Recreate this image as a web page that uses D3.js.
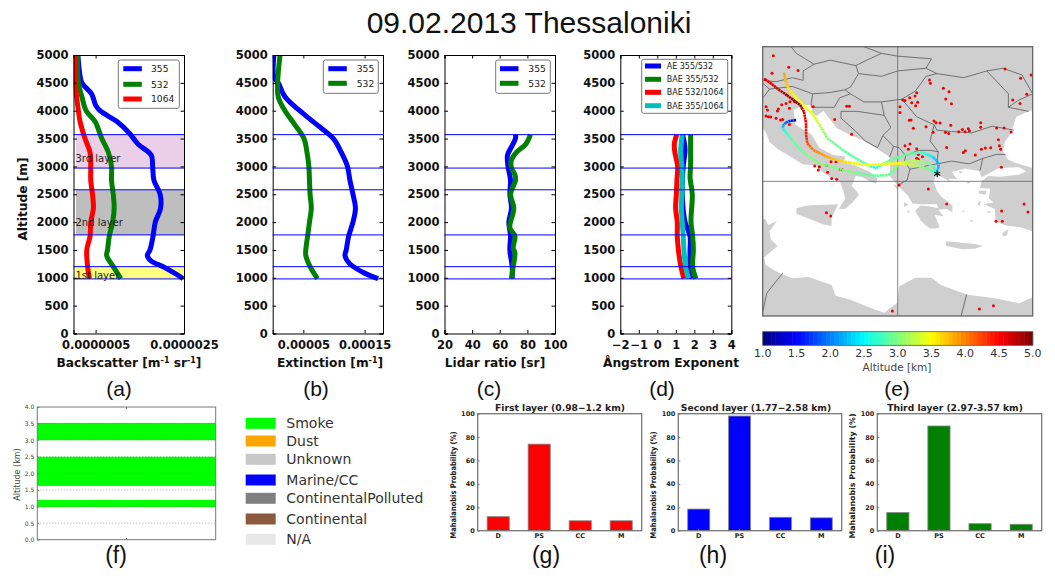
<!DOCTYPE html>
<html>
<head>
<meta charset="utf-8">
<script src="https://cdn.jsdelivr.net/npm/d3@7"></script>
<style>
body { margin: 0; background: #fff; }
svg { display: block; }
text { font-family: "DejaVu Sans", sans-serif; }
</style>
</head>
<body>
<script>
// layer limits in m
var layerAlts = [980, 1200, 1770, 2580, 2970, 3570];
var altTicks = [0, 500, 1000, 1500, 2000, 2500, 3000, 3500, 4000, 4500, 5000];

// backscatter [m-1 sr-1], each series with its own altitudes
var bscAlt355 = [985, 1100, 1200, 1300, 1400, 1500, 1750, 2000, 2250, 2500, 2750, 3000, 3200, 3400, 3600, 3800, 4000, 4100, 4300, 4500, 4700, 5000];
var bsc355 = [2.48e-6, 2.25e-6, 2.03e-6, 1.76e-6, 1.67e-6, 1.73e-6, 1.80e-6, 1.85e-6, 1.97e-6, 1.96e-6, 1.82e-6, 1.79e-6, 1.76e-6, 1.46e-6, 1.26e-6, 0.99e-6, 0.60e-6, 0.50e-6, 0.41e-6, 0.19e-6, 0.135e-6, 0.10e-6];
var bscAlt = [985, 1200, 1400, 1500, 1750, 2000, 2250, 2500, 2750, 3000, 3250, 3500, 3800, 4000, 4250, 4500, 5000];
var bsc532 = [1.07e-6, 0.90e-6, 0.75e-6, 0.77e-6, 0.81e-6, 0.886e-6, 0.92e-6, 0.90e-6, 0.86e-6, 0.86e-6, 0.79e-6, 0.64e-6, 0.49e-6, 0.285e-6, 0.19e-6, 0.11e-6, 0.09e-6];
var bscAlt1064 = [985, 1200, 1500, 1750, 2000, 2250, 2500, 2750, 3000, 3250, 3500, 3800, 4000, 4500, 5000];
var bsc1064 = [0.36e-6, 0.32e-6, 0.30e-6, 0.375e-6, 0.39e-6, 0.45e-6, 0.43e-6, 0.39e-6, 0.39e-6, 0.375e-6, 0.26e-6, 0.15e-6, 0.11e-6, 0.04e-6, 0.03e-6];

// extinction [m-1]
var extAlt355 = [985, 1100, 1250, 1400, 1500, 1750, 2000, 2250, 2500, 2750, 3000, 3250, 3500, 3750, 4000, 4250, 4500, 4600, 5000];
var ext355 = [1.72e-4, 1.47e-4, 1.26e-4, 1.18e-4, 1.20e-4, 1.24e-4, 1.31e-4, 1.35e-4, 1.31e-4, 1.26e-4, 1.22e-4, 1.12e-4, 0.99e-4, 0.72e-4, 0.44e-4, 0.20e-4, 0.09e-4, 0.02e-4, 0.02e-4];
var extAlt532 = [985, 1200, 1400, 1500, 1750, 2000, 2250, 2500, 2750, 3000, 3250, 3500, 3750, 4000, 4250, 4500, 5000];
var ext532 = [0.73e-4, 0.61e-4, 0.54e-4, 0.54e-4, 0.57e-4, 0.60e-4, 0.63e-4, 0.61e-4, 0.60e-4, 0.59e-4, 0.56e-4, 0.51e-4, 0.36e-4, 0.20e-4, 0.09e-4, 0.08e-4, 0.12e-4];

// lidar ratio [sr]
var lrAlt355 = [985, 1200, 1500, 1750, 2000, 2250, 2500, 2750, 3000, 3200, 3350, 3500, 3570];
var lr355 = [69, 69, 67.3, 67.8, 66.6, 68.5, 67.3, 67.8, 66, 65.6, 68.5, 71.4, 71.4];
var lrAlt532 = [985, 1200, 1450, 1530, 1750, 1900, 2250, 2500, 2750, 2850, 2970, 3100, 3250, 3400, 3570];
var lr532 = [68.5, 69.7, 71, 69.7, 71, 67.3, 70.2, 67.8, 71.4, 71, 68.5, 68.3, 72, 78.9, 82.2];

// angstrom exponents
var aeAlt = [985, 1200, 1500, 1750, 2000, 2500, 3000, 3300, 3570];
var ae355532 = [1.86, 1.77, 1.77, 1.77, 1.5, 1.35, 1.4, 1.5, 1.37];
var baeAlt = [985, 1200, 1500, 1750, 2000, 2500, 2800, 3000, 3250, 3570];
var bae355532 = [2.09, 1.91, 1.95, 1.91, 1.82, 1.89, 1.77, 1.8, 1.8, 1.8];
var baeAlt2 = [985, 1200, 1500, 1750, 2000, 2250, 2500, 2750, 3000, 3250, 3400, 3570];
var bae5321064 = [1.44, 1.28, 1.14, 1.08, 1.08, 0.99, 1.03, 1.06, 1.1, 0.95, 0.92, 1.05];
var baeAlt3 = [985, 1200, 1500, 1750, 2000, 2250, 2500, 2750, 3000, 3250, 3570];
var bae3551064 = [1.68, 1.53, 1.44, 1.4, 1.35, 1.3, 1.33, 1.35, 1.33, 1.26, 1.35];

// map, lon/lat
var seaCoast = [[10,44],[10.3,43.5],[10.5,42.95],[11.1,42.4],[12.2,41.75],[13,41.25],[13.9,41.2],[14.3,40.8],[15,40.3],[15.7,40],[16,39.2],[16.1,38.7],[15.8,38.2],[15.65,37.95],[16.1,37.95],[16.6,38.4],[17.15,39],[16.6,39.7],[16.9,40.4],[17.4,40.3],[18,39.95],[18.4,39.85],[18.5,40.2],[18,40.65],[16.9,41.15],[16,41.45],[16.15,41.85],[15.2,41.95],[14.2,42.5],[13.6,43.5],[12.4,44.2],[12.3,45.3],[13.1,45.7],[13.7,45.6],[13.6,45.1],[14,44.85],[14.5,45.25],[14.9,44.7],[15.5,43.95],[16.4,43.5],[17.5,43],[18.5,42.4],[19.4,41.8],[19.45,41],[19.4,40.4],[20,39.7],[20.75,38.95],[21.1,38.35],[21.7,38.3],[22.9,38.3],[23,38],[22.3,38.15],[21.7,38.2],[21.3,37.8],[21.7,37.1],[22,36.8],[22.4,36.5],[22.8,36.5],[23.1,36.6],[22.75,37.5],[23.4,37.4],[23,37.9],[23.6,37.95],[24.05,37.7],[24.05,38.2],[23.2,38.9],[22.9,39.3],[22.65,40],[22.9,40.5],[23.4,40.25],[23.9,39.95],[23.8,40.2],[24.4,40.15],[24,40.7],[25,40.95],[26.05,40.75],[26.2,40.3],[26.8,40.6],[27.5,41],[29,41.05],[29.5,40.75],[29,40.5],[27.6,40.35],[26.7,40.4],[26.2,40],[26.1,39.5],[26.85,39.45],[26.75,38.7],[27.1,38.45],[26.35,38.3],[27.2,37.95],[27.25,37],[28.1,36.7],[29.1,36.6],[30,36.3],[30,31.4],[29,30.95],[27.3,31.3],[25.1,31.6],[23.2,32.3],[22.5,32.85],[21.3,32.85],[20.1,32.2],[20,31],[19,30.25],[18,30.6],[16.5,31.2],[15.4,31.5],[15.1,32.3],[13.4,32.9],[12.2,32.8],[11.2,33.2],[10.2,33.8],[10.1,34.35],[11.1,35.2],[10.6,35.7],[10.5,36.3],[11.05,37.05],[10.4,36.75],[10.2,37.2],[10,37.25]];
var blackSea = [[30,45.3],[29.7,45.2],[28.8,44.8],[28.7,44.55],[28.4,43.6],[27.95,42.95],[27.8,42.2],[28.2,41.6],[28.8,41.35],[30,41]];
var islands = [
  [[12.5,38],[13.3,38.2],[15.6,38.3],[15.1,37.3],[15.1,36.7],[14.5,36.8],[12.5,37.6]],
  [[23.55,35.55],[24.2,35.5],[25.7,35.35],[26.3,35.2],[25.7,35],[24.8,34.95],[23.6,35.2]],
  [[27.75,36.15],[28.2,36.45],[28.1,36],[27.8,35.9]],
  [[26.0,39.3],[26.6,39.3],[26.5,39],[26,39.1]],
  [[26,38.5],[26.15,38.55],[26.1,38.2],[25.9,38.25]],
  [[26.6,37.8],[27,37.75],[26.7,37.65]],
  [[20.45,38.45],[20.8,38.3],[20.5,38.1]],
  [[20.65,37.85],[20.95,37.75],[20.8,37.65]],
  [[19.65,39.8],[20.1,39.6],[19.9,39.45]],
  [[24.55,40.8],[24.8,40.7],[24.6,40.55]],
  [[25.1,40],[25.4,39.95],[25.2,39.8]],
  [[25.4,37.15],[25.6,37.1],[25.45,36.95]],
  [[24.85,37.85],[25,37.7],[24.8,37.75]]
];
var borders = [
  [[10,47.5],[11,47.4],[12.2,47.7],[13,47.5],[13,48.2],[13.8,48.7],[12.5,49.5],[12.1,50]],
  [[10,47.3],[10.5,46.85],[12.2,47.05],[13.7,46.5],[13.6,45.8],[13.6,45.5]],
  [[10.5,46.85],[10.1,46.3],[10,46.2]],
  [[13.8,48.7],[15,49],[16.9,48.6],[17.7,49],[18.8,49.5],[17.5,50]],
  [[18.8,49.5],[20,49.3],[22.5,49.1],[22.1,48.4]],
  [[16.9,48.6],[17.1,48],[18.8,47.8],[20,48.2],[22.1,48.4],[22.9,48]],
  [[17.1,48],[16.5,47],[16.1,46.8],[15,46.6],[13.7,46.5]],
  [[16.1,46.8],[16.5,46.5],[15.7,46.2],[15.3,45.5],[14.5,45.5],[13.6,45.5]],
  [[16.5,46.5],[17.5,45.9],[18.8,45.9],[20.3,46.1],[21.3,46.7],[22.1,47.8],[22.9,48],[24.9,47.7],[26.6,48.2],[28.2,46.5],[28.2,45.5],[29.7,45.2]],
  [[26.6,48.2],[27.8,48.4],[29.2,47.9],[30,46.5],[28.9,46],[28.2,45.5]],
  [[20.3,46.1],[21.4,44.8],[22.7,44.2],[22.9,43.8],[24,43.7],[25.5,43.6],[27,44.1],[28.6,43.8]],
  [[22.7,44.2],[22.4,43],[23,42.2],[22.9,41.3],[24,41.5],[25.3,41.3],[26.3,41.7],[27.3,42],[28,42]],
  [[26.3,41.7],[26.1,40.8]],
  [[23,42.2],[22.4,42.3],[21.5,42.3],[20.6,41.9],[20.5,41.5],[20.9,40.9],[21.9,41.1],[22.9,41.3]],
  [[20.9,40.9],[20.7,40.1],[20,39.7]],
  [[19.4,41.8],[19.7,42.6],[20.1,42.5],[20.6,41.9]],
  [[18.8,45.9],[19,44.9],[19.5,44],[18.9,43.4],[18.5,42.5]],
  [[18.9,43.4],[19.7,42.6]],
  [[19,44.9],[17,45.2],[15.8,45.2],[15.8,44.7],[16.9,43.7],[17.6,43],[18.5,42.5]],
  [[11.5,33.2],[10.3,31.7],[10,30.3]],
  [[25.1,31.6],[24.7,30]]
];
var sites = [[10.79,49.33],[11.93,48.47],[12.62,48.24],[10.69,48.02],[10.17,47.57],[10.25,45.54],[10.35,45.30],[10.25,44.85],[10.42,44.80],[10.59,44.78],[10.99,44.68],[11.41,45.69],[11.16,45.37],[11.09,45.22],[11.98,45.42],[12.02,45.92],[11.73,45.79],[11.98,44.23],[11.33,44.55],[11.48,44.60],[12.37,45.92],[16.22,45.57],[16.42,45.57],[13.75,45.54],[15.33,44.60],[16.59,43.49],[22.35,47.52],[22.42,47.28],[23.38,46.91],[23.80,46.66],[23.56,46.11],[23.98,45.77],[21.41,46.58],[21.28,46.34],[20.37,46.04],[20.54,46.01],[21.04,45.84],[20.89,46.21],[21.48,45.87],[21.33,45.62],[20.17,45.54],[20.17,45.12],[20.86,44.53],[20.99,44.55],[21.16,43.94],[22.10,44.06],[22.69,44.48],[22.84,44.36],[23.14,44.33],[23.93,44.16],[22.62,43.64],[23.53,43.64],[23.78,43.56],[24.52,43.69],[24.79,43.86],[24.99,43.69],[25.23,43.91],[25.31,43.76],[26.15,44.36],[26.15,44.01],[27.33,43.96],[27.88,43.96],[28.40,43.66],[27.46,43.09],[27.53,42.65],[27.63,42.38],[26.89,42.50],[26.49,42.48],[26.20,42.38],[25.75,41.96],[25.01,42.28],[24.86,42.15],[23.63,42.52],[20.54,42.65],[20.91,42.77],[21.41,42.43],[20.79,42.38],[21.53,42.00],[21.83,41.83],[21.41,41.71],[21.53,41.63],[27.68,41.04],[27.95,48.34],[29.11,47.65],[29.88,47.90],[29.56,46.46],[28.52,46.04],[29.06,45.79],[13.85,41.14],[14.20,41.09],[14.12,40.84],[14.81,40.67],[14.74,41.19],[15.06,41.46],[15.43,41.46],[15.73,40.89],[15.90,40.87],[15.11,40.22],[15.48,40.15],[20.10,39.73],[22.27,39.43],[23.63,38.32],[14.72,37.67],[15.04,37.43],[29.36,38.32],[29.65,37.72],[27.70,37.80],[27.28,37.03],[27.75,37.03],[19.60,30.37],[26.05,30.52],[27.09,30.77]];
var station = [22.93, 40.56];

// back trajectories: lon, lat, altitude km
var trajA = [[12.47,44.55,1.3],[12.07,44.50,1.6],[11.73,44.38,1.9],[11.48,44.11,2.2],[11.53,43.86,2.5],[11.90,43.44,2.8],[12.27,42.95,2.9],[12.64,42.52,2.9],[13.26,41.96,3.0],[14.25,41.34,3.0],[15.48,40.97,3.0],[16.47,40.72,3.0],[17.46,40.52,2.9],[18.44,40.42,2.9],[19.31,40.47,2.9],[19.80,40.84,2.95],[19.98,41.29,3.1],[20.54,41.44,3.2],[21.41,41.53,3.2],[22.15,41.39,3.0],[22.69,41.04,2.8],[22.91,40.54,2.6]];
var trajB = [[11.58,48.07,3.9],[11.68,47.52,3.8],[11.90,46.91,3.6],[12.40,46.29,3.5],[13.01,45.67,3.5],[13.75,44.93,3.4],[14.37,43.94,3.2],[14.79,43.19,3.0],[15.36,42.77,2.9],[16.10,42.20,2.85],[17.21,41.53,2.85],[17.95,41.14,2.7],[18.40,40.99,2.6],[18.94,41.29,2.9],[19.56,41.63,2.9],[20.17,41.83,2.9],[20.79,42.03,2.9],[21.65,42.15,2.8],[22.15,42.03,2.6],[22.64,41.78,2.35],[22.96,41.46,2.2],[23.04,41.09,2.2],[22.89,40.72,2.4],[22.91,40.54,2.5]];
var trajC = [[10.17,47.57,4.6],[10.67,47.23,4.6],[11.16,46.83,4.7],[11.78,46.41,4.8],[12.27,46.04,4.9],[12.77,45.67,4.9],[13.06,45.17,4.7],[13.21,44.31,4.5],[13.21,43.44,4.4],[13.31,42.82,4.2],[13.75,42.33,4.0],[14.74,41.83,3.85],[15.48,41.58,3.7],[16.47,41.39,3.55],[17.70,41.21,3.5],[18.94,41.29,3.5],[20.17,41.34,3.5],[21.16,41.21,3.25],[22.15,40.97,3.0],[22.91,40.54,2.7]];
var cbarTicks = [1, 1.5, 2, 2.5, 3, 3.5, 4, 4.5, 5];

// aerosol type column
var typeTicks = [0, 0.5, 1, 1.5, 2, 2.5, 3, 3.5, 4];
var smokeBottoms = [0.98, 1.62, 3.0];
var smokeTops = [1.2, 2.5, 3.52];
var typeNames = ["Smoke", "Dust", "Unknown", "Marine/CC", "ContinentalPolluted", "Continental", "N/A"];
var typeColors = ["#00ff00", "#ffa500", "#c8c8c8", "#0000ff", "#808080", "#8b5a3c", "#e8e8e8"];

// mahalanobis bars
var barCats = ["D", "PS", "CC", "M"];
var firstLayer = [12, 74, 8.5, 8.5];
var secondLayer = [18.5, 98, 11.5, 11];
var thirdLayer = [15.5, 89.5, 6, 5.5];

var svg = d3.select("body").append("svg").attr("width", 1055).attr("height", 581);
var defs = svg.append("defs");

var top0 = 55, bot0 = 333.5;
var yAlt = d3.scaleLinear().domain([0, 5000]).range([bot0, top0]);
var profLine = d3.line().curve(d3.curveCatmullRom.alpha(0.5));

function zipSeries(alts, vals) {
    return alts.map(function (a, i) { return [vals[i], a]; });
}

function legend(box, swX, textX, ys, names, colors, size, sw) {
    svg.append("rect").attr("x", box[0]).attr("y", box[1]).attr("width", box[2] - box[0]).attr("height", box[3] - box[1])
        .attr("rx", 2).attr("fill", "#fff").attr("stroke", "#777").attr("stroke-width", 1);
    names.forEach(function (n, i) {
        svg.append("line").attr("x1", swX).attr("x2", swX + sw).attr("y1", ys[i]).attr("y2", ys[i])
            .attr("stroke", colors[i]).attr("stroke-width", 5);
        svg.append("text").attr("x", textX).attr("y", ys[i] + size * 0.37).attr("font-size", size).attr("fill", "#222").text(n);
    });
}

function profilePanel(x0, x1, domain, ticks, fmt, label, series, labelX) {
    var x = d3.scaleLinear().domain(domain).range([x0, x1]);
    var clipId = "clip" + Math.round(x0);
    defs.append("clipPath").attr("id", clipId).append("rect").attr("x", x0).attr("y", top0).attr("width", x1 - x0).attr("height", bot0 - top0);
    var g = svg.append("g");
    if (x0 < 100) {
        // shaded layers, only in the backscatter panel
        var shadeX = x.invert(76);
        [[0, 1, "#ffff7f"], [2, 3, "#bebebe"], [4, 5, "#ebcfe9"]].forEach(function (s) {
            g.append("rect").attr("x", x(shadeX)).attr("width", x1 - x(shadeX))
                .attr("y", yAlt(layerAlts[s[1]])).attr("height", yAlt(layerAlts[s[0]]) - yAlt(layerAlts[s[1]]))
                .attr("fill", s[2]);
        });
    }
    var lines = g.append("g").attr("clip-path", "url(#" + clipId + ")");
    series.forEach(function (s) {
        lines.append("path").attr("d", profLine.x(function (d) { return x(d[0]); }).y(function (d) { return yAlt(d[1]); })(s.data))
            .attr("fill", "none").attr("stroke", s.color).attr("stroke-width", 5).attr("stroke-linejoin", "round");
    });
    layerAlts.forEach(function (a) {
        g.append("line").attr("x1", x0).attr("x2", x1).attr("y1", yAlt(a)).attr("y2", yAlt(a)).attr("stroke", "#0000ff").attr("stroke-width", 1);
    });
    if (x0 < 100) {
        [[1050, "1st layer"], [2000, "2nd layer"], [3140, "3rd layer"]].forEach(function (t) {
            g.append("text").attr("x", x0 + 2).attr("y", yAlt(t[0])).attr("dy", "0.35em").attr("font-size", 10).attr("fill", "#222").text(t[1]);
        });
    }
    var yAxis = d3.axisLeft(yAlt).tickValues(altTicks).tickSize(-3.5).tickPadding(5).tickFormat(d3.format("d"));
    var yAxisR = d3.axisRight(yAlt).tickValues(altTicks).tickSize(-3.5).tickFormat("");
    var xAxis = d3.axisBottom(x).tickValues(ticks).tickSize(-3.5).tickPadding(7).tickFormat(fmt);
    var xAxisT = d3.axisTop(x).tickValues(ticks).tickSize(-3.5).tickFormat("");
    svg.append("g").attr("transform", "translate(" + x0 + ",0)").call(yAxis);
    svg.append("g").attr("transform", "translate(" + x1 + ",0)").call(yAxisR);
    svg.append("g").attr("transform", "translate(0," + bot0 + ")").call(xAxis);
    svg.append("g").attr("transform", "translate(0," + top0 + ")").call(xAxisT);
    svg.selectAll("g.tick text").attr("font-size", 11.5).attr("font-weight", "bold").attr("fill", "#111");
    svg.selectAll(".domain").attr("stroke-width", 1);
    svg.append("text").attr("x", labelX).attr("y", 366.5).attr("text-anchor", "middle").attr("font-size", 12.2).attr("font-weight", "bold").attr("fill", "#111").html(label);
}

var fmtFixed7 = function (d) { return d3.format(".7f")(d); };
var fmtFixed5 = function (d) { return d3.format(".5f")(d); };

profilePanel(73.5, 184, [0, 2.5e-6], [5e-7, 2.5e-6], fmtFixed7,
    'Backscatter [m<tspan dy="-4" font-size="8">-1</tspan><tspan dy="4"> sr</tspan><tspan dy="-4" font-size="8">-1</tspan><tspan dy="4">]</tspan>',
    [{ data: zipSeries(bscAlt355, bsc355), color: "#0000ff" }, { data: zipSeries(bscAlt, bsc532), color: "#008000" }, { data: zipSeries(bscAlt1064, bsc1064), color: "#ff0000" }], 129);
profilePanel(272.7, 383, [0, 1.8e-4], [5e-5, 1.5e-4], fmtFixed5,
    'Extinction [m<tspan dy="-4" font-size="8">-1</tspan><tspan dy="4">]</tspan>',
    [{ data: zipSeries(extAlt355, ext355), color: "#0000ff" }, { data: zipSeries(extAlt532, ext532), color: "#008000" }], 330);
profilePanel(444.5, 555, [20, 100], [20, 40, 60, 80, 100], d3.format("d"), "Lidar ratio [sr]",
    [{ data: zipSeries(lrAlt355, lr355), color: "#0000ff" }, { data: zipSeries(lrAlt532, lr532), color: "#008000" }], 495);
profilePanel(620.3, 731.3, [-2, 4], [-2, -1, 0, 1, 2, 3, 4], function (d) { return d < 0 ? "\u2212" + (-d) : d; }, "\u00c5ngstrom Exponent",
    [{ data: zipSeries(aeAlt, ae355532), color: "#0000ff" }, { data: zipSeries(baeAlt, bae355532), color: "#008000" }, { data: zipSeries(baeAlt2, bae5321064), color: "#ff0000" }, { data: zipSeries(baeAlt3, bae3551064), color: "#00bfbf" }], 671);

svg.append("text").attr("transform", "translate(27,199) rotate(-90)").attr("text-anchor", "middle").attr("font-size", 12.2).attr("font-weight", "bold").attr("fill", "#111").text("Altitude [m]");

legend([118.3, 60, 179.3, 108.3], 123.3, 151, [68.7, 84.3, 99], ["355", "532", "1064"], ["#0000ff", "#008000", "#ff0000"], 9.2, 18.5);
legend([323.3, 60, 378.3, 93.3], 328.3, 356.7, [68.7, 83.3], ["355", "532"], ["#0000ff", "#008000"], 9.2, 18.5);
legend([495.7, 60, 550.3, 93.3], 500, 528.3, [68.7, 83.3], ["355", "532"], ["#0000ff", "#008000"], 9.2, 18.5);
legend([641.7, 59.3, 727.7, 113.3], 645, 666.7, [66, 79.3, 92.3, 105.7], ["AE 355/532", "BAE 355/532", "BAE 532/1064", "BAE 355/1064"], ["#0000ff", "#008000", "#ff0000", "#00bfbf"], 8, 16);

// map
var mx = d3.scaleLinear().domain([10, 30]).range([762.7, 1032.7]);
var my = d3.scaleLinear().domain([50, 30]).range([46.7, 316]);
var mapLine = d3.line().x(function (d) { return mx(d[0]); }).y(function (d) { return my(d[1]); });
var jet = d3.scaleLinear().domain([1, 1.5, 2.5, 3.5, 4.5, 5])
    .range(["#00007f", "#0000ff", "#00ffff", "#ffff00", "#ff0000", "#7f0000"]);

defs.append("clipPath").attr("id", "mapclip").append("rect").attr("x", mx(10)).attr("y", my(50)).attr("width", mx(30) - mx(10)).attr("height", my(30) - my(50));
var map = svg.append("g").attr("clip-path", "url(#mapclip)");
map.append("rect").attr("x", mx(10)).attr("y", my(50)).attr("width", mx(30) - mx(10)).attr("height", my(30) - my(50)).attr("fill", "#cfcfcf");
map.append("path").attr("d", mapLine(seaCoast) + "Z").attr("fill", "#fff");
map.append("path").attr("d", mapLine(blackSea) + "Z").attr("fill", "#fff");
islands.forEach(function (p) {
    map.append("path").attr("d", mapLine(p) + "Z").attr("fill", "#cfcfcf");
});
borders.forEach(function (b) {
    map.append("path").attr("d", mapLine(b)).attr("fill", "none").attr("stroke", "#666").attr("stroke-width", 0.9);
});
map.append("line").attr("x1", mx(20)).attr("x2", mx(20)).attr("y1", my(50)).attr("y2", my(30)).attr("stroke", "#666").attr("stroke-width", 0.8);
map.append("line").attr("x1", mx(10)).attr("x2", mx(30)).attr("y1", my(40)).attr("y2", my(40)).attr("stroke", "#666").attr("stroke-width", 0.8);
map.selectAll("circle.site").data(sites).enter().append("circle").attr("class", "site")
    .attr("cx", function (d) { return mx(d[0]); }).attr("cy", function (d) { return my(d[1]); }).attr("r", 1.5).attr("fill", "#f00000");

var gradId = 0;
[trajA, trajB, trajC].forEach(function (t) {
    d3.pairs(t).forEach(function (p) {
        var id = "seg" + (gradId++);
        var grad = defs.append("linearGradient").attr("id", id).attr("gradientUnits", "userSpaceOnUse")
            .attr("x1", mx(p[0][0])).attr("y1", my(p[0][1])).attr("x2", mx(p[1][0])).attr("y2", my(p[1][1]));
        grad.append("stop").attr("offset", 0).attr("stop-color", jet(p[0][2]));
        grad.append("stop").attr("offset", 1).attr("stop-color", jet(p[1][2]));
        map.append("line").attr("x1", mx(p[0][0])).attr("y1", my(p[0][1])).attr("x2", mx(p[1][0]) + 0.01).attr("y2", my(p[1][1]) + 0.01)
            .attr("stroke", "url(#" + id + ")").attr("stroke-width", 2.6).attr("stroke-dasharray", "2.4,0.4");
    });
});
map.append("path").attr("d", d3.symbol().type(d3.symbolAsterisk).size(32)())
    .attr("transform", "translate(" + mx(station[0]) + "," + my(station[1]) + ")").attr("stroke", "#000").attr("stroke-width", 1.1).attr("fill", "none");
svg.append("rect").attr("x", mx(10)).attr("y", my(50)).attr("width", mx(30) - mx(10)).attr("height", my(30) - my(50)).attr("fill", "none").attr("stroke", "#666").attr("stroke-width", 1.3);

// colour bar
var cx = d3.scaleLinear().domain([1, 5]).range([762.7, 1032.7]);
var cbarStops = d3.range(0, 64).map(function (i) { return 1 + i * 4 / 64; });
svg.append("g").selectAll("rect").data(cbarStops).enter().append("rect")
    .attr("x", function (d) { return cx(d); }).attr("y", 331.7).attr("width", 270 / 64 + 0.5).attr("height", 13.6)
    .attr("fill", function (d) { return jet(d + 2 / 64); });
svg.append("rect").attr("x", 762.7).attr("y", 331.7).attr("width", 270).attr("height", 13.6).attr("fill", "none").attr("stroke", "#555").attr("stroke-width", 0.8);
cbarTicks.forEach(function (t) {
    svg.append("text").attr("x", cx(t)).attr("y", 357).attr("text-anchor", "middle").attr("font-size", 11).attr("fill", "#333").text(d3.format(".1f")(t));
});
svg.append("text").attr("x", 897).attr("y", 367).attr("dy", "0.35em").attr("text-anchor", "middle").attr("font-size", 10.5).attr("fill", "#444").text("Altitude [km]");

// aerosol type column
var fx0 = 37.3, fx1 = 215.7;
var fy = d3.scaleLinear().domain([0, 4]).range([539.7, 407]);
svg.append("g").selectAll("rect").data(smokeBottoms).enter().append("rect")
    .attr("x", fx0).attr("width", fx1 - fx0)
    .attr("y", function (d, i) { return fy(smokeTops[i]); })
    .attr("height", function (d, i) { return fy(d) - fy(smokeTops[i]); })
    .attr("fill", "#00ff00");
typeTicks.slice(1, -1).forEach(function (t) {
    svg.append("line").attr("x1", fx0).attr("x2", fx1).attr("y1", fy(t)).attr("y2", fy(t)).attr("stroke", "#777").attr("stroke-width", 0.6).attr("stroke-dasharray", "1,2");
});
svg.append("rect").attr("x", fx0).attr("y", 407).attr("width", fx1 - fx0).attr("height", 132.7).attr("fill", "none").attr("stroke", "#777").attr("stroke-width", 1);
var fAxis = d3.axisLeft(fy).tickValues(typeTicks).tickSize(-2).tickPadding(3).tickFormat(d3.format(".1f"));
var fg = svg.append("g").attr("transform", "translate(" + fx0 + ",0)").call(fAxis);
fg.selectAll("text").attr("font-size", 6).attr("fill", "#444");
fg.select(".domain").remove();
fg.selectAll("line").attr("stroke", "#777");
svg.append("text").attr("transform", "translate(20,474.5) rotate(-90)").attr("text-anchor", "middle").attr("font-size", 8).attr("fill", "#444").text("Altitude (km)");
svg.append("line").attr("x1", (fx0 + fx1) / 2).attr("x2", (fx0 + fx1) / 2).attr("y1", 407).attr("y2", 409).attr("stroke", "#777");
svg.append("line").attr("x1", (fx0 + fx1) / 2).attr("x2", (fx0 + fx1) / 2).attr("y1", 538).attr("y2", 540).attr("stroke", "#777");

var typeYs = [423.3, 441, 459.3, 480, 498.3, 519, 539.3];
typeNames.forEach(function (n, i) {
    svg.append("rect").attr("x", 245.7).attr("y", typeYs[i] - 5.5).attr("width", 30).attr("height", 11).attr("fill", typeColors[i]);
    svg.append("text").attr("x", 286.3).attr("y", typeYs[i] + 5).attr("font-size", 14).attr("fill", "#333").text(n);
});

// mahalanobis panels
function barPanel(x0, x1, values, color, title, titleX, labelMid, labelLen) {
    var x = d3.scaleBand().domain(barCats).range([x0, x1]).paddingInner(0.46).paddingOuter(0.23);
    var y = d3.scaleLinear().domain([0, 100]).range([530.7, 413.7]);
    svg.append("g").selectAll("rect").data(values).enter().append("rect")
        .attr("x", function (d, i) { return x(barCats[i]); }).attr("width", x.bandwidth())
        .attr("y", function (d) { return y(d); }).attr("height", function (d) { return y(0) - y(d); })
        .attr("fill", color).attr("stroke", "#888").attr("stroke-width", 0.8);
    svg.append("rect").attr("x", x0).attr("y", 413.7).attr("width", x1 - x0).attr("height", 117).attr("fill", "none").attr("stroke", "#777").attr("stroke-width", 1.3);
    var ya = svg.append("g").attr("transform", "translate(" + x0 + ",0)")
        .call(d3.axisLeft(y).tickValues([0, 20, 40, 60, 80, 100]).tickSize(-2).tickPadding(3));
    var xa = svg.append("g").attr("transform", "translate(0,530.7)")
        .call(d3.axisBottom(x).tickSize(-2).tickPadding(3));
    [ya, xa].forEach(function (a) {
        a.select(".domain").remove();
        a.selectAll("line").attr("stroke", "#777");
        a.selectAll("text").attr("font-size", 6.5).attr("font-weight", "bold").attr("fill", "#222");
    });
    svg.append("text").attr("transform", "translate(" + (x0 - 22) + "," + labelMid + ") rotate(-90)").attr("text-anchor", "middle")
        .attr("font-size", 7.8).attr("font-weight", "bold").attr("fill", "#222")
        .attr("textLength", labelLen).attr("lengthAdjust", "spacingAndGlyphs").text("Mahalanobis Probability (%)");
    svg.append("text").attr("x", titleX).attr("y", 411).attr("text-anchor", "middle").attr("font-size", 9.2).attr("font-weight", "bold").attr("fill", "#222").text(title);
}
barPanel(477.7, 641.7, firstLayer, "#ff0000", "First layer (0.98\u22121.2 km)", 560, 485, 107);
barPanel(678.3, 841.7, secondLayer, "#0000ff", "Second layer (1.77\u22122.58 km)", 756, 485, 107);
barPanel(877.3, 1041.7, thirdLayer, "#008000", "Third layer (2.97-3.57 km)", 955, 476, 125);

// panel letters and title
var panelLetters = ["(a)", "(b)", "(c)", "(d)", "(e)", "(f)", "(g)", "(h)", "(i)"];
var letterX = [119, 316, 489, 662, 897, 116, 546, 713, 885];
var letterY = [396, 396, 396, 396, 396, 563, 563, 563, 563];
var letterSize = [21, 21, 21, 21, 21, 23, 23, 23, 23];
panelLetters.forEach(function (t, i) {
    svg.append("text").attr("x", letterX[i]).attr("y", letterY[i]).attr("text-anchor", "middle")
        .style("font-family", "Liberation Sans").attr("font-size", letterSize[i]).attr("fill", "#111").text(t);
});
svg.append("text").attr("x", 529).attr("y", 33).attr("text-anchor", "middle").style("font-family", "Liberation Sans").attr("font-size", 30).attr("fill", "#111").text("09.02.2013 Thessaloniki");
</script>
</body>
</html>
